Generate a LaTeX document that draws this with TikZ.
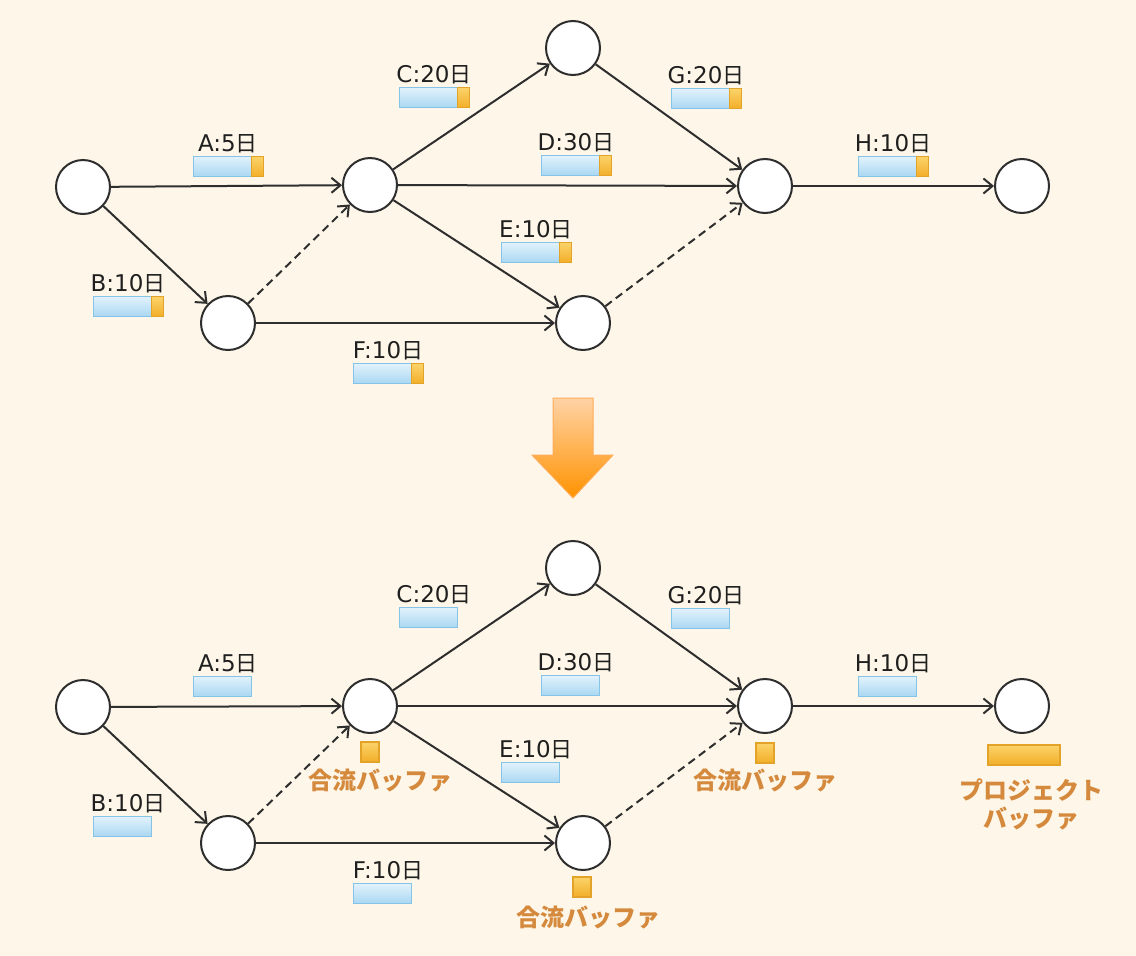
\documentclass[tikz,border=0pt]{standalone}
\usepackage{fontspec}
\setmainfont{Noto Sans CJK JP}
\newfontfamily\latinf{DejaVu Sans}
\newfontfamily\cjkf{Noto Sans CJK JP}
\usetikzlibrary{arrows.meta}
\definecolor{bgc}{HTML}{FEF7E9}
\definecolor{linec}{HTML}{2E2E2E}
\definecolor{bufc}{HTML}{D4893C}
\definecolor{bluetop}{HTML}{E2F2FC}
\definecolor{bluebot}{HTML}{A9D7F2}
\definecolor{blueedge}{HTML}{86C3E8}
\definecolor{ortop}{HTML}{FBD36A}
\definecolor{orbot}{HTML}{F2AE28}
\definecolor{oredge}{HTML}{E3A228}
\tikzset{
  ev/.style={circle, minimum size=54pt, inner sep=0pt, draw=linec, line width=2pt, fill=white},
  edge/.style={draw=linec, line width=2pt, -{Straight Barb[length=9pt,width=15pt]}},
  dashedge/.style={edge, dash pattern=on 8pt off 5pt},
  bluebar/.style={anchor=north west, minimum width=58pt, minimum height=20pt, inner sep=0pt, draw=blueedge, line width=1.2pt, top color=bluetop, bottom color=bluebot},
  orfill/.style={draw=oredge, line width=1.2pt, top color=ortop, bottom color=orbot},
  orbar/.style={orfill, anchor=north west, minimum width=12pt, minimum height=20pt, inner sep=0pt},
  bufsq/.style={orfill, minimum width=18pt, minimum height=20pt, inner sep=0pt},
  projbar/.style={orfill, minimum width=72pt, minimum height=20pt, inner sep=0pt},
  tasklab/.style={anchor=south, inner sep=0pt, text=black!88},
  buflab/.style={inner sep=0pt, font=\fontsize{24}{28}\selectfont\bfseries, text=bufc, align=center},
  bigarrow/.style={draw=orange!65, line width=1pt, top color=orange!35!white, bottom color=orange!85!yellow}
}
\newcommand\tasktext[1]{{\fontsize{23}{26}\selectfont\latinf #1}{\fontsize{22}{26}\selectfont\cjkf 日}}
\newcommand\fullbar[4]{%
  \node[bluebar] (#1b) at (#2,#3) {};
  \node[orbar] (#1o) at (#2+58,#3) {};
  \node[tasklab] (#1t) at (#2+35,#3-3) {\tasktext{#4}};}
\newcommand\plainbar[4]{%
  \node[bluebar] (#1b) at (#2,#3) {};
  \node[tasklab] (#1t) at (#2+35,#3-3) {\tasktext{#4}};}
\begin{document}
\begin{tikzpicture}[x=1pt,y=-1pt]
\fill[bgc] (0,0) rectangle (1136,956);
\useasboundingbox (0,0) rectangle (1136,956);
% ---------- top network ----------
\node[ev] (t1) at (83,187) {};
\node[ev] (t2) at (370,185) {};
\node[ev] (t3) at (573,48) {};
\node[ev] (t4) at (765,186) {};
\node[ev] (t5) at (1022,186) {};
\node[ev] (t6) at (228,323) {};
\node[ev] (t7) at (583,323) {};
\draw[edge] (t1) -- (t2);
\draw[edge] (t1) -- (t6);
\draw[dashedge] (t6) -- (t2);
\draw[edge] (t2) -- (t3);
\draw[edge] (t2) -- (t4);
\draw[edge] (t2) -- (t7);
\draw[edge] (t6) -- (t7);
\draw[edge] (t3) -- (t4);
\draw[dashedge] (t7) -- (t4);
\draw[edge] (t4) -- (t5);
\fullbar{ta}{193}{156}{A:5}
\fullbar{tc}{399}{87}{C:20}
\fullbar{tg}{671}{88}{G:20}
\fullbar{td}{541}{155}{D:30}
\fullbar{th}{858}{156}{H:10}
\fullbar{te}{501}{242}{E:10}
\fullbar{tb}{93}{296}{B:10}
\fullbar{tf}{353}{363}{F:10}
% ---------- big arrow ----------
\path[bigarrow] (553,398) coordinate (ar1) -- (593,398) -- (593,455) -- (613,455) -- (573,498) -- (532,455) -- (553,455) -- cycle;
% ---------- bottom network ----------
\node[ev] (b1) at (83,707) {};
\node[ev] (b2) at (370,706) {};
\node[ev] (b3) at (573,568) {};
\node[ev] (b4) at (765,706) {};
\node[ev] (b5) at (1022,706) {};
\node[ev] (b6) at (228,843) {};
\node[ev] (b7) at (583,843) {};
\draw[edge] (b1) -- (b2);
\draw[edge] (b1) -- (b6);
\draw[dashedge] (b6) -- (b2);
\draw[edge] (b2) -- (b3);
\draw[edge] (b2) -- (b4);
\draw[edge] (b2) -- (b7);
\draw[edge] (b6) -- (b7);
\draw[edge] (b3) -- (b4);
\draw[dashedge] (b7) -- (b4);
\draw[edge] (b4) -- (b5);
\plainbar{ba}{193}{676}{A:5}
\plainbar{bc}{399}{607}{C:20}
\plainbar{bg}{671}{608}{G:20}
\plainbar{bd}{541}{675}{D:30}
\plainbar{bh}{858}{676}{H:10}
\plainbar{be}{501}{762}{E:10}
\plainbar{bb}{93}{816}{B:10}
\plainbar{bf}{353}{883}{F:10}
% buffers
\node[bufsq] (s2) at (370,752) {};
\node[buflab] (l2) at (380,781) {合流バッファ};
\node[bufsq] (s4) at (765,753) {};
\node[buflab] (l4) at (765,781) {合流バッファ};
\node[bufsq] (s7) at (582,887) {};
\node[buflab] (l7) at (588,918) {合流バッファ};
\node[projbar] (pb) at (1024,755) {};
\node[buflab] (pl) at (1031,804) {プロジェクト\\バッファ};
\end{tikzpicture}
\end{document}
